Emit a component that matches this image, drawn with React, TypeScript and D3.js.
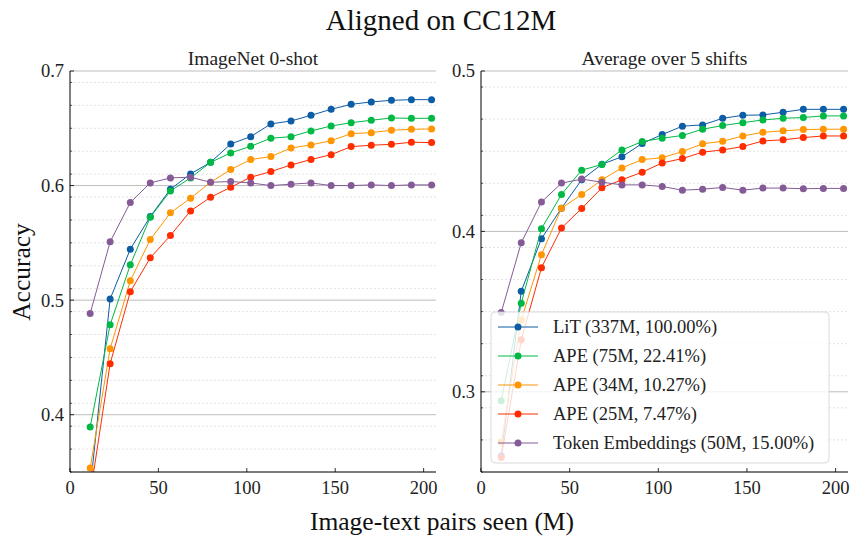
import React from "react";
import * as d3 from "d3";

const steps = [11.4, 22.7, 34.1, 45.4, 56.8, 68.2, 79.5, 90.9, 102.2, 113.6, 125.0, 136.3, 147.7, 159.0, 170.4, 181.8, 193.1, 204.5];

const seriesNames = [
  "LiT (337M, 100.00%)",
  "APE (75M, 22.41%)",
  "APE (34M, 10.27%)",
  "APE (25M, 7.47%)",
  "Token Embeddings (50M, 15.00%)",
];
const seriesColors = ["#0C5DA5", "#00B945", "#FF9500", "#FF2C00", "#845B97"];

// ImageNet 0-shot
const inLiT = [0.335, 0.501, 0.5445, 0.573, 0.5968, 0.6102, 0.6203, 0.6363, 0.6427, 0.6538, 0.6564, 0.6613, 0.6666, 0.6709, 0.673, 0.6744, 0.675, 0.675];
const inApe75 = [0.3892, 0.4785, 0.5308, 0.5724, 0.5953, 0.6067, 0.6203, 0.6285, 0.6343, 0.6413, 0.6427, 0.6477, 0.652, 0.6549, 0.657, 0.659, 0.6587, 0.6587];
const inApe34 = [0.3535, 0.4576, 0.5169, 0.5529, 0.5762, 0.589, 0.6029, 0.614, 0.6227, 0.6253, 0.6328, 0.6355, 0.6392, 0.6453, 0.6462, 0.6483, 0.6491, 0.6494];
const inApe25 = [0.33, 0.4445, 0.5073, 0.5369, 0.5564, 0.5779, 0.5898, 0.5985, 0.6073, 0.6122, 0.618, 0.6227, 0.627, 0.634, 0.6352, 0.636, 0.6378, 0.6375];
const inTok = [0.4884, 0.5509, 0.5852, 0.6023, 0.6067, 0.6073, 0.6029, 0.6035, 0.6023, 0.6, 0.6012, 0.6023, 0.6, 0.6, 0.6006, 0.6, 0.6006, 0.6006];

// Average over 5 shifts
const shLiT = [0.26, 0.3627, 0.3954, 0.4145, 0.4322, 0.4419, 0.4465, 0.4548, 0.4604, 0.4656, 0.4664, 0.4705, 0.4724, 0.4726, 0.4743, 0.4761, 0.4761, 0.4761];
const shApe75 = [0.2944, 0.3552, 0.4017, 0.423, 0.4382, 0.4417, 0.4508, 0.456, 0.4581, 0.4598, 0.4637, 0.466, 0.4678, 0.4695, 0.4705, 0.471, 0.472, 0.472];
const shApe34 = [0.2687, 0.3448, 0.3855, 0.4145, 0.423, 0.4322, 0.4396, 0.4448, 0.4459, 0.4498, 0.4546, 0.4562, 0.4595, 0.4618, 0.4627, 0.4635, 0.4637, 0.4637];
const shApe25 = [0.2591, 0.3324, 0.3774, 0.4021, 0.4143, 0.4272, 0.4322, 0.4369, 0.4427, 0.4454, 0.4494, 0.4508, 0.4529, 0.4564, 0.4571, 0.4585, 0.4595, 0.4595];
const shTok = [0.3494, 0.3929, 0.4183, 0.4301, 0.4326, 0.4307, 0.429, 0.429, 0.428, 0.4257, 0.4263, 0.4274, 0.4257, 0.427, 0.427, 0.4266, 0.4268, 0.4268];

const xTicks = [0, 50, 100, 150, 200];
const leftYTicks = [0.4, 0.5, 0.6, 0.7];
const rightYTicks = [0.3, 0.4, 0.5];

const FONT = "'Liberation Serif', 'DejaVu Serif', serif";

type PanelProps = {
  id: string;
  left: number;
  right: number;
  top: number;
  bottom: number;
  yDomain: [number, number];
  yTicks: number[];
  title: string;
  series: number[][];
  legend?: boolean;
};

function Panel({ id, left, right, top, bottom, yDomain, yTicks, title, series, legend }: PanelProps) {
  const x = d3.scaleLinear().domain([0, 207]).range([left, right]);
  const y = d3.scaleLinear().domain(yDomain).range([bottom, top]);
  const minor = d3.range(Math.round(yDomain[0] * 100), Math.round(yDomain[1] * 100) + 1, 2)
    .map((v) => v / 100)
    .filter((v) => !yTicks.some((t) => Math.abs(t - v) < 1e-6));
  const line = d3.line<number>().x((_, i) => x(steps[i])).y((d) => y(d));
  const fmt = d3.format(".1f");

  const lgX = left + 10;
  const lgY = top + 241;
  const rowH = 29;

  return (
    <g>
      <defs>
        <clipPath id={id}>
          <rect x={left} y={top - 4} width={right - left + 4} height={bottom - top + 4} />
        </clipPath>
      </defs>
      {minor.map((v) => (
        <line key={"m" + v} x1={left} x2={right} y1={y(v)} y2={y(v)} stroke="#dcdcdc" strokeWidth={0.8} strokeDasharray="2,2" />
      ))}
      {yTicks.map((v) => (
        <line key={"g" + v} x1={left} x2={right} y1={y(v)} y2={y(v)} stroke="#bdbdbd" strokeWidth={1} />
      ))}
      <g clipPath={`url(#${id})`}>
        {series.map((s, si) => (
          <g key={si}>
            <path d={line(s) || ""} fill="none" stroke={seriesColors[si]} strokeWidth={1} />
            {s.map((v, i) => (
              <circle key={i} cx={x(steps[i])} cy={y(v)} r={3.5} fill={seriesColors[si]} />
            ))}
          </g>
        ))}
      </g>
      <line x1={left} x2={left} y1={top} y2={bottom} stroke="#000" strokeWidth={1} />
      <line x1={left} x2={right} y1={bottom} y2={bottom} stroke="#000" strokeWidth={1} />
      {yTicks.map((v) => (
        <g key={"yt" + v}>
          <line x1={left} x2={left + 4} y1={y(v)} y2={y(v)} stroke="#000" strokeWidth={0.8} />
          <text x={left - 6} y={y(v)} dy="0.35em" textAnchor="end" fontFamily={FONT} fontSize={18.5} fill="#222">
            {fmt(v)}
          </text>
        </g>
      ))}
      {minor.map((v) => (
        <line key={"ymt" + v} x1={left} x2={left + 2.2} y1={y(v)} y2={y(v)} stroke="#000" strokeWidth={0.6} />
      ))}
      {xTicks.map((v) => (
        <g key={"xt" + v}>
          <line x1={x(v)} x2={x(v)} y1={bottom} y2={bottom - 4} stroke="#000" strokeWidth={0.8} />
          <text x={x(v)} y={bottom + 22} textAnchor="middle" fontFamily={FONT} fontSize={18.5} fill="#222">
            {v}
          </text>
        </g>
      ))}
      <text x={(left + right) / 2} y={top - 6} textAnchor="middle" fontFamily={FONT} fontSize={19.5} fill="#222">
        {title}
      </text>
      {legend && (
        <g>
          <rect x={lgX} y={lgY} width={338} height={151} rx={4} fill="#fff" fillOpacity={0.8} stroke="#d0d0d0" strokeWidth={0.8} />
          {seriesNames.map((n, i) => {
            const cy = lgY + 15 + i * rowH;
            return (
              <g key={n}>
                <line x1={lgX + 7} x2={lgX + 47} y1={cy} y2={cy} stroke={seriesColors[i]} strokeWidth={1} />
                <circle cx={lgX + 27} cy={cy} r={3.5} fill={seriesColors[i]} />
                <text x={lgX + 62} y={cy} dy="0.35em" fontFamily={FONT} fontSize={18.5} fill="#222">
                  {n}
                </text>
              </g>
            );
          })}
        </g>
      )}
    </g>
  );
}

export default function App() {
  return (
    <svg width={851} height={538} style={{ position: "absolute", left: 0, top: 0, background: "#fff" }}>
      <rect width={851} height={538} fill="#fff" />
      <text x={441} y={30} textAnchor="middle" fontFamily={FONT} fontSize={29} fill="#111">
        Aligned on CC12M
      </text>
      <Panel
        id="clipL"
        left={70}
        right={436}
        top={71}
        bottom={472}
        yDomain={[0.35, 0.7]}
        yTicks={leftYTicks}
        title="ImageNet 0-shot"
        series={[inLiT, inApe75, inApe34, inApe25, inTok]}
      />
      <Panel
        id="clipR"
        left={481}
        right={848}
        top={71}
        bottom={472}
        yDomain={[0.25, 0.5]}
        yTicks={rightYTicks}
        title="Average over 5 shifts"
        series={[shLiT, shApe75, shApe34, shApe25, shTok]}
        legend
      />
      <text x={442} y={530} textAnchor="middle" fontFamily={FONT} fontSize={25.5} fill="#111">
        Image-text pairs seen (M)
      </text>
      <text transform="translate(30,272) rotate(-90)" textAnchor="middle" fontFamily={FONT} fontSize={25.5} fill="#111">
        Accuracy
      </text>
    </svg>
  );
}
